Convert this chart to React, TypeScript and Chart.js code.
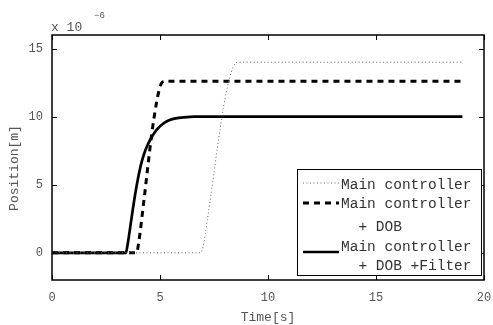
import { useEffect, useRef } from 'react';
import { Chart, registerables } from 'chart.js';

Chart.register(...registerables);

// Time [s] and position [x 1e-6 m]
const mainTime = [0, 6.88, 7.0, 7.2, 7.45, 7.7, 7.95, 8.2, 8.4, 8.6, 19];
const mainValue = [0, 0, 0.5, 2.5, 5.3, 8.2, 10.8, 12.7, 13.7, 14.0, 14.0];

const dobTime = [0, 3.92, 4.0, 4.26, 4.62, 4.83, 4.95, 5.05, 5.2, 19];
const dobValue = [0, 0, 0.6, 3.9, 8.75, 10.95, 11.9, 12.4, 12.6, 12.6];

const filterTime = [0, 3.42, 3.5, 3.65, 3.8, 3.95, 4.1, 4.25, 4.42, 4.6, 4.8, 5.0, 5.2, 5.45, 5.72, 6.1, 6.6, 19];
const filterValue = [0, 0, 0.6, 2.2, 3.8, 5.2, 6.35, 7.2, 7.9, 8.45, 8.95, 9.3, 9.55, 9.75, 9.87, 9.95, 10.0, 10.0];

const xTicks = [0, 5, 10, 15, 20];
const yTicks = [0, 5, 10, 15];
const xRange = [0, 20];
const yRange = [-2, 16];

const legendLines = [
  ['Main controller'],
  ['Main controller', '  + DOB'],
  ['Main controller', '  + DOB +Filter'],
];
const xTitle = 'Time[s]';
const yTitle = 'Position[m]';
const exponentBase = 'x 10';
const exponent = '\u22126';

const FONT = '"Liberation Mono", "Courier New", monospace';

const toPoints = (t: number[], v: number[]) => t.map((x, i) => ({ x, y: v[i] }));

export default function App() {
  const ref = useRef<HTMLCanvasElement | null>(null);

  useEffect(() => {
    document.body.style.margin = '0';
    const canvas = ref.current;
    if (!canvas) return;

    const decor = {
      id: 'decor',
      afterDraw(chart: any) {
        const ctx = chart.ctx as CanvasRenderingContext2D;
        const { left, right, top, bottom } = chart.chartArea;
        const xs = chart.scales.x;
        const ys = chart.scales.y;
        ctx.save();
        // box
        ctx.strokeStyle = '#000';
        ctx.lineWidth = 1.5;
        ctx.strokeRect(left, top, right - left, bottom - top);
        // inward ticks
        ctx.lineWidth = 1;
        ctx.beginPath();
        xTicks.forEach((v) => {
          const p = Math.round(xs.getPixelForValue(v)) + 0.5;
          ctx.moveTo(p, bottom);
          ctx.lineTo(p, bottom - 5);
          ctx.moveTo(p, top);
          ctx.lineTo(p, top + 5);
        });
        yTicks.forEach((v) => {
          const p = Math.round(ys.getPixelForValue(v)) + 0.5;
          ctx.moveTo(left, p);
          ctx.lineTo(left + 5, p);
          ctx.moveTo(right, p);
          ctx.lineTo(right - 5, p);
        });
        ctx.stroke();

        // titles
        ctx.fillStyle = '#555';
        ctx.font = `13px ${FONT}`;
        ctx.textAlign = 'center';
        ctx.textBaseline = 'middle';
        ctx.fillText(xTitle, (left + right) / 2, 318);
        ctx.save();
        ctx.translate(15, 168);
        ctx.rotate(-Math.PI / 2);
        ctx.fillText(yTitle, 0, 0);
        ctx.restore();

        // exponent
        ctx.textAlign = 'left';
        ctx.textBaseline = 'alphabetic';
        ctx.font = `13px ${FONT}`;
        ctx.fillText(exponentBase, 51, 31);
        ctx.font = `9px ${FONT}`;
        ctx.fillText(exponent, 94, 18);

        // legend
        const bx = 297, by = 169, bw = 184, bh = 106;
        ctx.fillStyle = '#fff';
        ctx.fillRect(bx, by, bw, bh);
        ctx.strokeStyle = '#000';
        ctx.lineWidth = 1;
        ctx.strokeRect(bx + 0.5, by + 0.5, bw, bh);

        const textRows = [[185], [204, 227], [247, 266]];
        const sampleY = [183, 203, 252];
        const styles = chart.data.datasets;
        legendLines.forEach((lines, i) => {
          const ds = styles[i];
          ctx.save();
          ctx.strokeStyle = ds.borderColor;
          ctx.lineWidth = ds.borderWidth;
          ctx.setLineDash(ds.borderDash || []);
          ctx.beginPath();
          ctx.moveTo(303, sampleY[i]);
          ctx.lineTo(339, sampleY[i]);
          ctx.stroke();
          ctx.restore();
          ctx.fillStyle = '#333';
          ctx.font = `14.5px ${FONT}`;
          ctx.textAlign = 'left';
          ctx.textBaseline = 'middle';
          lines.forEach((s, j) => {
            ctx.fillText(s, 341, textRows[i][j]);
          });
        });
        ctx.restore();
      },
    };

    const chart = new Chart(canvas, {
      type: 'line',
      data: {
        datasets: [
          {
            label: legendLines[0].join(' '),
            data: toPoints(mainTime, mainValue),
            borderColor: '#666',
            borderWidth: 1,
            borderDash: [1, 2.5],
            pointRadius: 0,
            cubicInterpolationMode: 'monotone',
            fill: false,
          },
          {
            label: legendLines[1].join(' '),
            data: toPoints(dobTime, dobValue),
            borderColor: '#000',
            borderWidth: 3,
            borderDash: [6, 5],
            pointRadius: 0,
            cubicInterpolationMode: 'monotone',
            fill: false,
          },
          {
            label: legendLines[2].join(' '),
            data: toPoints(filterTime, filterValue),
            borderColor: '#000',
            borderWidth: 2.7,
            pointRadius: 0,
            cubicInterpolationMode: 'monotone',
            fill: false,
          },
        ],
      },
      options: {
        responsive: false,
        animation: false,
        layout: { padding: { top: 35, right: 9, left: 0, bottom: 0 } },
        plugins: { legend: { display: false }, tooltip: { enabled: false } },
        scales: {
          x: {
            type: 'linear',
            min: xRange[0],
            max: xRange[1],
            grid: { display: false, drawTicks: false },
            border: { display: false },
            afterBuildTicks: (s: any) => {
              s.ticks = xTicks.map((value) => ({ value }));
            },
            afterFit: (s: any) => {
              s.height = 45;
              s.paddingLeft = 0;
              s.paddingRight = 0;
            },
            ticks: {
              padding: 11,
              color: '#555',
              font: { family: FONT, size: 12 },
              maxRotation: 0,
            },
          },
          y: {
            type: 'linear',
            min: yRange[0],
            max: yRange[1],
            grid: { display: false, drawTicks: false },
            border: { display: false },
            afterBuildTicks: (s: any) => {
              s.ticks = yTicks.map((value) => ({ value }));
            },
            afterFit: (s: any) => {
              s.width = 52;
              s.paddingTop = 0;
              s.paddingBottom = 0;
            },
            ticks: {
              padding: 9,
              color: '#555',
              font: { family: FONT, size: 12 },
            },
          },
        },
      },
      plugins: [decor],
    } as any);

    return () => chart.destroy();
  }, []);

  return (
    <div style={{ width: 493, height: 325 }}>
      <canvas ref={ref} width={493} height={325} style={{ width: 493, height: 325, display: 'block' }} />
    </div>
  );
}
